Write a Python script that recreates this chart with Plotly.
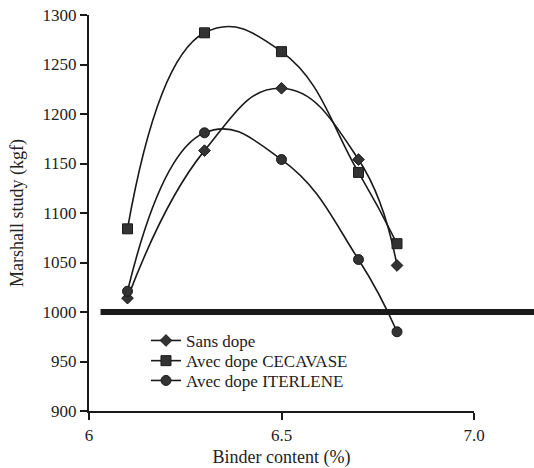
import plotly.graph_objects as go

binder = [6.1, 6.3, 6.5, 6.7, 6.8]
sans_dope = [1014, 1163, 1226, 1154, 1047]
cecavase = [1084, 1282, 1263, 1141, 1069]
iterlene = [1021, 1181, 1154, 1053, 980]
series_names = ["Sans dope", "Avec dope CECAVASE", "Avec dope ITERLENE"]
y_ticks = [900, 950, 1000, 1050, 1100, 1150, 1200, 1250, 1300]
x_ticks = [6, 6.5, 7.0]
x_tick_labels = ["6", "6.5", "7.0"]
threshold = 1000

FONT = "'Liberation Serif', 'Times New Roman', serif"
FS = 17
fig = go.Figure()
legend_ids = ["legend", "legend2", "legend3"]
for vals, name, sym, lg in [(sans_dope, series_names[0], "diamond", legend_ids[0]),
                            (cecavase, series_names[1], "square", legend_ids[1]),
                            (iterlene, series_names[2], "circle", legend_ids[2])]:
    fig.add_trace(go.Scatter(
        x=binder, y=vals, name=name, mode="lines+markers", legend=lg,
        line=dict(color="#1a1a1a", width=1.6, shape="spline", smoothing=1.3),
        marker=dict(symbol=sym, size=10 if sym != "diamond" else 9, color="#333333",
                    line=dict(color="#1a1a1a", width=1)),
        cliponaxis=False,
    ))

fig.add_shape(type="line", xref="paper", yref="y",
              x0=0.03, x1=1.17, y0=threshold, y1=threshold,
              line=dict(color="#1a1a1a", width=6))

leg_common = dict(x=0.148, xanchor="left", yanchor="middle",
                  bgcolor="rgba(0,0,0,0)", font=dict(family=FONT, size=FS),
                  itemwidth=30)
ys = [0.177, 0.126, 0.076]

fig.update_layout(
    width=534, height=468,
    margin=dict(l=89, r=60, t=15, b=57, autoexpand=False),
    paper_bgcolor="white", plot_bgcolor="white",
    font=dict(family=FONT, size=FS, color="#222222"),
    showlegend=True,
    legend=dict(y=ys[0], **leg_common),
    legend2=dict(y=ys[1], **leg_common),
    legend3=dict(y=ys[2], **leg_common),
    xaxis=dict(range=[6, 7.0], tickvals=x_ticks, ticktext=x_tick_labels,
               automargin=False,
               showgrid=False, zeroline=False, showline=True,
               linecolor="#1a1a1a", linewidth=1.5, ticks="outside",
               ticklen=7, tickwidth=1.5, tickcolor="#1a1a1a",
               ticklabelstandoff=1,
               title=dict(text="Binder content (%)", standoff=10,
                          font=dict(family=FONT, size=18))),
    yaxis=dict(range=[900, 1300], tickvals=y_ticks,
               automargin=False,
               showgrid=False, zeroline=False, showline=True,
               linecolor="#1a1a1a", linewidth=2, ticks="outside",
               ticklen=7, tickwidth=1.5, tickcolor="#1a1a1a",
               title=dict(text="Marshall study (kgf)", standoff=14,
                          font=dict(family=FONT, size=18))),
)

fig.write_html("out.html")
